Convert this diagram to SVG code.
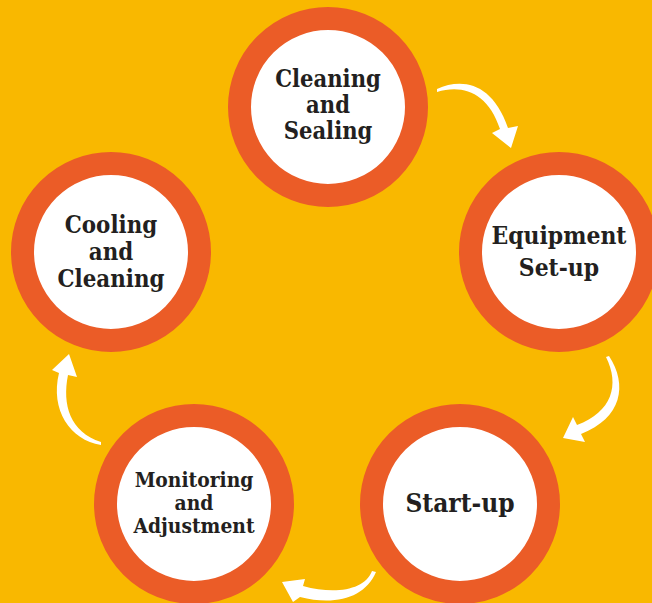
<svg xmlns="http://www.w3.org/2000/svg" width="652" height="603" viewBox="0 0 652 603">
<style>
.ring{fill:#ffffff;stroke:#EB5C27;stroke-width:23}
.lbl{font-family:"DejaVu Serif Condensed","DejaVu Serif","Liberation Serif",serif;font-weight:bold;fill:#231F20;text-anchor:middle}
.arr{fill:#ffffff}
</style>
<rect width="652" height="603" fill="#F9B800"/>
<g id="connectors">
<path class="arr" d="M437,89 C462,78 492,82 508,128 L518,126 L511,148 L492,133 L500,129 C488,92 462,84 437,92 Z"/>
<path class="arr" d="M609,356 C628,385 622,418 581,434 L585,442 L563,438 L573,417 L577,425 C612,412 620,385 606,357 Z"/>
<path class="arr" d="M372,571 C365,590 335,595 303,586 L305,579 L282,582 L293,602 L300,597 C335,606 365,598 376,572 Z"/>
<path class="arr" d="M101,445 C70,440 50,410 59,373 L52,370 L69,354 L77,377 L68,375 C62,405 70,432 101,442 Z"/>
</g>
<g id="n1">
<circle class="ring" cx="328" cy="107" r="88.5"/>
<text class="lbl" font-size="23.5" x="328" y="87">Cleaning</text>
<text class="lbl" font-size="23.5" x="328" y="113">and</text>
<text class="lbl" font-size="23.5" x="328" y="139">Sealing</text>
</g>
<g id="n2">
<circle class="ring" cx="559" cy="252" r="88.5"/>
<text class="lbl" font-size="24.4" x="559" y="244">Equipment</text>
<text class="lbl" font-size="24.4" x="559" y="276">Set-up</text>
</g>
<g id="n3">
<circle class="ring" cx="460" cy="504" r="88.5"/>
<text class="lbl" font-size="26" x="460" y="512">Start-up</text>
</g>
<g id="n4">
<circle class="ring" cx="194" cy="504" r="88.5"/>
<text class="lbl" font-size="20.8" x="194" y="487">Monitoring</text>
<text class="lbl" font-size="20.8" x="194" y="510">and</text>
<text class="lbl" font-size="20.8" x="194" y="533">Adjustment</text>
</g>
<g id="n5">
<circle class="ring" cx="111" cy="252" r="88.5"/>
<text class="lbl" font-size="23.8" x="111" y="233">Cooling</text>
<text class="lbl" font-size="23.8" x="111" y="260">and</text>
<text class="lbl" font-size="23.8" x="111" y="287">Cleaning</text>
</g>
</svg>
